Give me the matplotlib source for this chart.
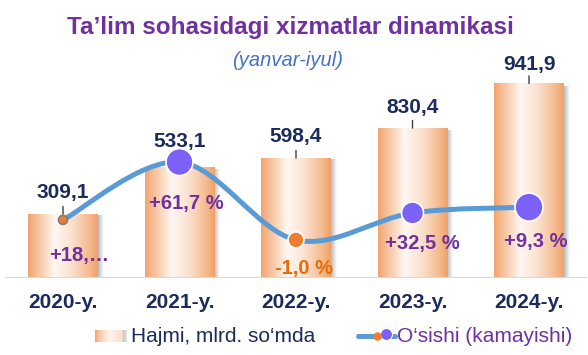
import numpy as np
import matplotlib
matplotlib.use("Agg")
import matplotlib.pyplot as plt
from matplotlib.colors import LinearSegmentedColormap
from matplotlib.path import Path
from matplotlib.patches import PathPatch
from matplotlib.lines import Line2D

# ---------------- data ----------------
categories = ["2020-y.", "2021-y.", "2022-y.", "2023-y.", "2024-y."]
bar_values = [309.1, 533.1, 581.0, 726.0, 941.9]          # bar heights as drawn
value_labels = ["309,1", "533,1", "598,4", "830,4", "941,9"]
growth_line = [20.9, 41.7, 13.7, 23.4, 25.5]               # line positions as drawn (secondary axis)
growth_labels = ["+18,\u2026", "+61,7 %", "-1,0 %", "+32,5 %", "+9,3 %"]

title = "Ta\u2019lim sohasidagi xizmatlar dinamikasi"
subtitle = "(yanvar-iyul)"
legend_bar = "Hajmi, mlrd. so\u2018mda"
legend_line = "O\u2018sishi (kamayishi)"

# ---------------- style ----------------
plt.rcParams["font.family"] = ["Liberation Sans", "DejaVu Sans"]
navy = "#1B2C5C"
purple_txt = "#7030A0"
orange_txt = "#E46C0A"
line_color = "#5B9BD5"
m_purple = "#7B61F8"
m_orange = "#ED7D31"

W, H = 588, 355
PX = 0.72  # points per pixel at dpi 100

fig = plt.figure(figsize=(W / 100, H / 100), dpi=100)
fig.patch.set_facecolor("white")

ax = fig.add_axes([4.75 / W, 77 / H, 582.5 / W, 278 / H])
ax.set_facecolor("none")

bar_cmap = LinearSegmentedColormap.from_list(
    "barg",
    [(0.0, "#F2A36E"), (0.12, "#F6BE96"), (0.38, "#FFF7F2"),
     (0.62, "#FBE2D0"), (0.88, "#F5BA8E"), (1.0, "#F0A068")])
grad = np.linspace(0, 1, 256).reshape(1, -1)
shadow = np.zeros((1, 64, 4))
shadow[..., :3] = 0.55
shadow[..., 3] = np.linspace(0.6, 0.0, 64)

bar_w = 0.6
shadow_w = 0.05
for i, v in enumerate(bar_values):
    ax.imshow(grad, cmap=bar_cmap, extent=[i - bar_w / 2, i + bar_w / 2, 0, v],
              aspect="auto", interpolation="bilinear", zorder=2)
    ax.imshow(shadow, extent=[i + bar_w / 2, i + bar_w / 2 + shadow_w, 0, v * 0.985],
              aspect="auto", interpolation="bilinear", zorder=1.9)

ax.set_xlim(-0.5, 4.5)
ax.set_ylim(0, 278 / 0.2065)
ax.axhline(0, color="#D9D9D9", lw=1.5, zorder=3)
for s in ax.spines.values():
    s.set_visible(False)
ax.set_yticks([])
ax.set_xticks(range(len(categories)))
ax.set_xticklabels(categories, fontsize=15, fontweight="bold", color=navy)
ax.tick_params(axis="x", length=0, pad=10.8)

# ---------------- growth line (secondary axis) ----------------
ax2 = ax.twinx()
ax2.set_ylim(0, 100)
ax2.axis("off")

# leader ticks (under the line markers)
for i, v in enumerate(bar_values):
    ax2.annotate("", xy=(i, v), xycoords=ax.transData, xytext=(0, 5.5),
                 textcoords="offset points",
                 arrowprops=dict(arrowstyle="-", color="#404040", lw=1,
                                 shrinkA=0, shrinkB=0), zorder=2)

pts = np.column_stack([np.arange(len(growth_line)), growth_line]).astype(float)
n = len(pts)
verts = [pts[0]]
codes = [Path.MOVETO]
for i in range(n - 1):
    p_prev = pts[max(i - 1, 0)]
    p_next2 = pts[min(i + 2, n - 1)]
    c1 = pts[i] + (pts[i + 1] - p_prev) / 6.0
    c2 = pts[i + 1] - (p_next2 - pts[i]) / 6.0
    verts += [c1, c2, pts[i + 1]]
    codes += [Path.CURVE4] * 3
ax2.add_patch(PathPatch(Path(verts, codes), facecolor="none", edgecolor=line_color,
                        lw=3.6, capstyle="round", zorder=3))

marker_px = [9, 27, 16, 22, 28]
marker_colors = [m_orange, m_purple, m_orange, m_purple, m_purple]
marker_edges = ["#7F7F7F", "white", "white", "white", "white"]
ax2.scatter(range(n), growth_line, s=(np.array(marker_px) * PX) ** 2,
            c=marker_colors, edgecolors=marker_edges, linewidths=1.2, zorder=4)

# value labels
val_off_px = [16, 21, 16, 15, 13]
for i, v in enumerate(bar_values):
    ax2.annotate(value_labels[i], xy=(i, v), xycoords=ax.transData,
                 xytext=(0, val_off_px[i] * PX), textcoords="offset points",
                 ha="center", va="baseline", fontsize=15, fontweight="bold",
                 color=navy, zorder=6)

# growth labels
pct_off_px = [(16.5, -41), (6.5, -47), (8, -34), (10, -36), (6.5, -40)]
pct_colors = [purple_txt, purple_txt, orange_txt, purple_txt, purple_txt]
for i, g in enumerate(growth_line):
    dx, dy = pct_off_px[i]
    ax2.annotate(growth_labels[i], xy=(i, g), xytext=(dx * PX, dy * PX),
                 textcoords="offset points", ha="center", va="baseline",
                 fontsize=14.5, fontweight="bold", color=pct_colors[i], zorder=6)

# ---------------- titles ----------------
fig.text(290 / W, 1 - 34 / H, title, ha="center", va="baseline",
         fontsize=17.5, fontweight="bold", color=purple_txt)
fig.text(288 / W, 1 - 66 / H, subtitle, ha="center", va="baseline",
         fontsize=14.5, style="italic", color="#4472C4")

# ---------------- legend ----------------
lax = fig.add_axes([95 / W, 1 - 342 / H, 32 / W, 12 / H])
leg_cmap = LinearSegmentedColormap.from_list(
    "legg", [(0.0, "#F2A36E"), (0.15, "#F8CDAE"), (0.45, "#FFF4EC"),
             (0.85, "#FBE0CC"), (0.9, "#C8C8C8"), (1.0, "#E6E6E6")])
lax.imshow(grad, cmap=leg_cmap, aspect="auto", interpolation="bilinear")
lax.axis("off")
fig.text(131 / W, 1 - 342 / H, legend_bar, ha="left", va="baseline",
         fontsize=15, color=navy)

ly = 1 - 336 / H
fig.add_artist(Line2D([358 / W, 395 / W], [ly, ly], color=line_color, lw=3.6,
                      solid_capstyle="round", transform=fig.transFigure))
fig.add_artist(Line2D([386 / W], [ly + 2 / H], marker="o", markersize=12 * PX,
                      color=m_purple, markeredgecolor="white", markeredgewidth=0.8,
                      transform=fig.transFigure))
fig.add_artist(Line2D([377 / W], [ly], marker="o", markersize=7 * PX,
                      color=m_orange, markeredgecolor=m_orange,
                      transform=fig.transFigure))
fig.text(397 / W, 1 - 342 / H, legend_line, ha="left", va="baseline",
         fontsize=15, color=purple_txt)

fig.savefig("out.png", dpi=100)
